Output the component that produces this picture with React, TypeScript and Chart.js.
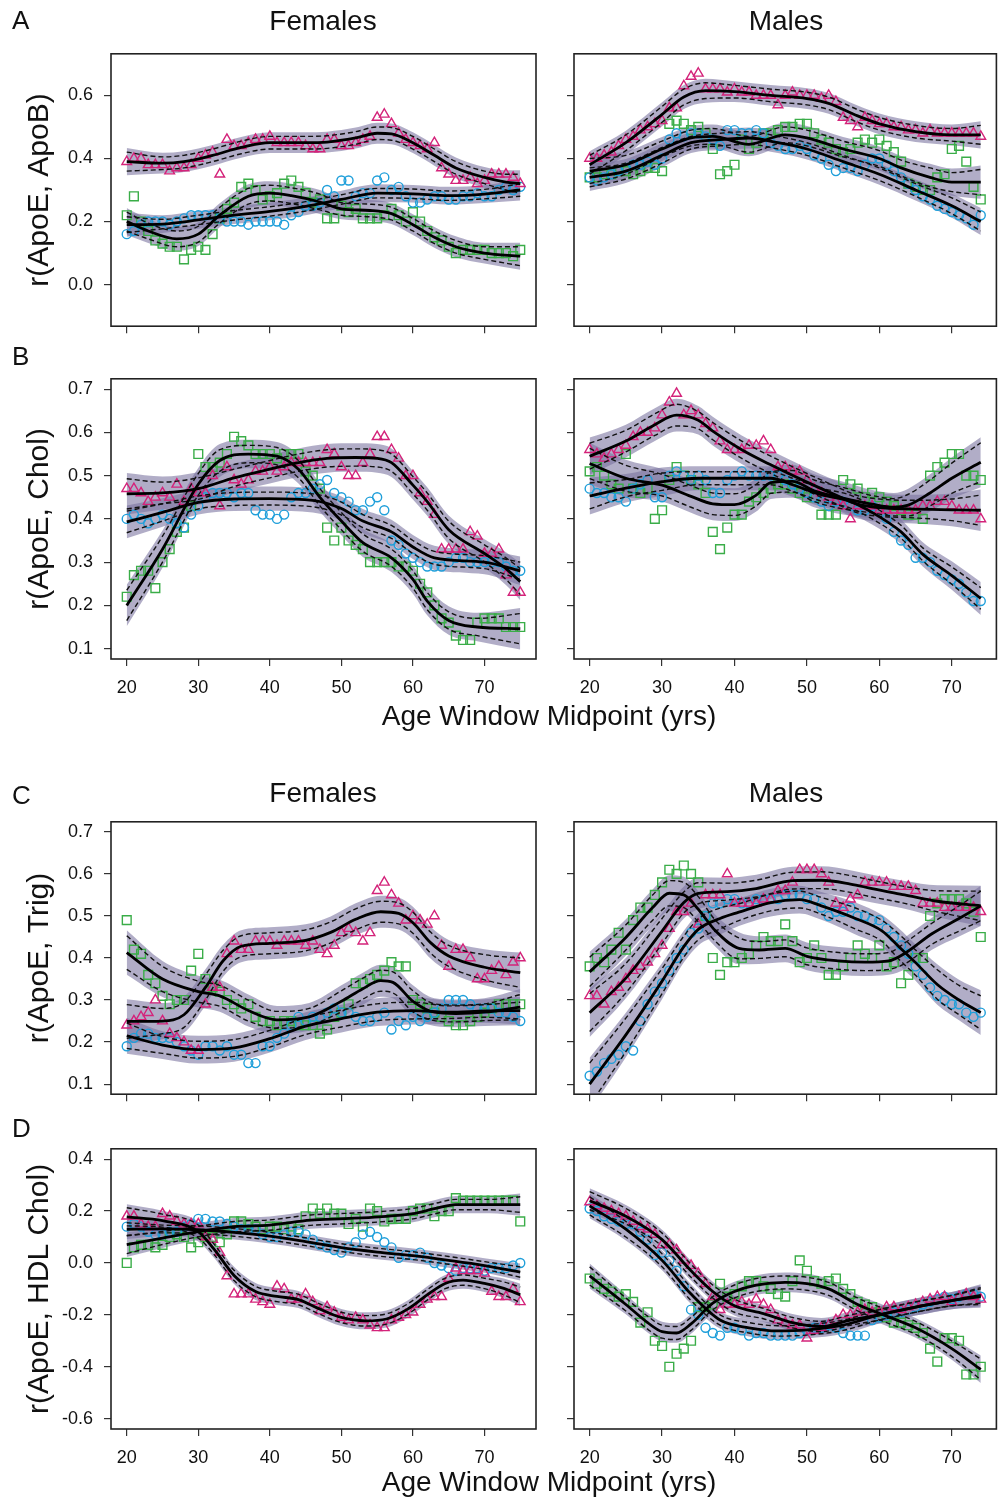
import React, { useEffect, useRef } from "react";
import { Chart, registerables } from "chart.js";
Chart.register(...registerables);

type Knot = [number, number, number]; // [age, fitted r, half-width of dashed band]

// ---------- ages ----------
const agesFemale = [20,21,22,23,24,25,26,27,28,29,30,31,32,33,34,35,36,37,38,39,40,41,42,43,44,45,46,47,48,49,50,51,52,53,54,55,56,57,58,59,60,61,62,63,64,65,66,67,68,69,70,71,72,73,74,75];
const agesMale = [20,21,22,23,24,25,26,27,28,29,30,31,32,33,34,35,36,37,38,39,40,41,42,43,44,45,46,47,48,49,50,51,52,53,54,55,56,57,58,59,60,61,62,63,64,65,66,67,68,69,70,71,72,73,74];
const xTickValues = [20, 30, 40, 50, 60, 70];
const yTicksA = [0, 0.2, 0.4, 0.6];
const yTicksBC = [0.1, 0.2, 0.3, 0.4, 0.5, 0.6, 0.7];
const yTicksD = [-0.6, -0.4, -0.2, 0, 0.2, 0.4];

// ---------- Panel A : r(ApoE, ApoB) ----------
const A_F_tri = [.39,.40,.40,.38,.38,.38,.36,.37,.37,.38,.40,.41,.42,.35,.46,.44,.44,.45,.46,.46,.47,.45,.45,.45,.45,.44,.43,.43,.46,.46,.44,.44,.45,.46,.47,.53,.54,.51,.48,.46,.45,.44,.43,.45,.37,.35,.33,.33,.34,.32,.33,.35,.35,.35,.34,.32];
const A_F_cir = [.16,.17,.19,.20,.20,.20,.19,.20,.21,.22,.22,.22,.22,.21,.20,.20,.20,.19,.20,.20,.20,.20,.19,.22,.23,.25,.25,.26,.30,.28,.33,.33,.28,.29,.29,.33,.34,.30,.31,.28,.26,.26,.27,.28,.28,.27,.27,.28,.28,.29,.28,.28,.30,.31,.30,.31];
const A_F_sq = [.22,.28,.20,.17,.14,.13,.12,.12,.08,.11,.12,.11,.16,.21,.24,.26,.31,.32,.30,.27,.28,.29,.32,.33,.31,.29,.26,.27,.21,.21,.25,.23,.24,.21,.21,.21,.22,.24,.22,.20,.23,.20,.17,.15,.14,.12,.10,.11,.11,.11,.11,.10,.10,.10,.09,.11];
const A_F_fitTri: Knot[] = [[20,.39,.03],[25,.385,.02],[28,.39,.02],[32,.41,.02],[36,.435,.02],[40,.45,.02],[45,.45,.02],[48,.452,.02],[52,.465,.02],[55,.48,.02],[57,.478,.02],[60,.45,.02],[63,.41,.02],[66,.37,.02],[70,.34,.02],[73,.325,.025],[75,.32,.03]];
const A_F_fitCir: Knot[] = [[20,.19,.025],[25,.192,.015],[30,.205,.015],[35,.22,.015],[40,.232,.015],[45,.248,.015],[50,.27,.015],[55,.29,.015],[60,.288,.015],[65,.282,.015],[70,.287,.015],[75,.30,.02]];
const A_F_fitSq: Knot[] = [[20,.20,.03],[23,.17,.025],[27,.145,.025],[30,.16,.025],[33,.22,.025],[37,.28,.025],[40,.29,.025],[43,.282,.025],[47,.262,.025],[50,.24,.02],[54,.235,.02],[57,.225,.02],[60,.19,.02],[63,.15,.02],[66,.12,.02],[70,.10,.02],[75,.09,.03]];

const A_M_tri = [.40,.40,.41,.42,.44,.46,.47,.49,.50,.51,.52,.56,.56,.63,.66,.67,.62,.62,.62,.61,.62,.61,.61,.60,.60,.60,.57,.60,.61,.60,.60,.60,.59,.60,.58,.53,.52,.50,.53,.52,.51,.51,.50,.50,.49,.49,.48,.49,.48,.48,.48,.48,.48,.48,.47];
const A_M_cir = [.34,.33,.34,.35,.36,.37,.38,.38,.39,.38,.40,.46,.48,.47,.48,.48,.47,.46,.44,.49,.49,.48,.48,.49,.48,.45,.44,.43,.43,.44,.43,.41,.40,.38,.36,.37,.37,.36,.38,.40,.40,.38,.36,.34,.32,.30,.28,.27,.25,.24,.23,.22,.21,.19,.22];
const A_M_sq = [.34,.34,.35,.35,.36,.36,.35,.36,.37,.37,.36,.51,.52,.51,.49,.50,.48,.43,.35,.36,.38,.46,.43,.45,.48,.48,.49,.50,.50,.51,.51,.48,.46,.45,.43,.42,.43,.45,.46,.45,.46,.44,.42,.39,.32,.31,.30,.30,.34,.35,.43,.44,.39,.31,.27];
const A_M_fitTri: Knot[] = [[20,.38,.03],[25,.45,.025],[30,.54,.025],[33,.595,.025],[36,.615,.025],[40,.612,.02],[45,.60,.02],[50,.59,.02],[53,.575,.02],[57,.535,.02],[60,.51,.02],[65,.485,.02],[70,.475,.02],[74,.475,.03]];
const A_M_fitCir: Knot[] = [[20,.34,.03],[25,.36,.025],[30,.41,.025],[34,.45,.02],[38,.46,.02],[42,.465,.02],[46,.45,.02],[50,.43,.02],[55,.39,.02],[60,.35,.02],[65,.30,.02],[70,.25,.025],[74,.20,.03]];
const A_M_fitSq: Knot[] = [[20,.36,.04],[25,.38,.03],[30,.43,.025],[34,.465,.025],[37,.47,.025],[42,.445,.025],[47,.475,.025],[50,.465,.025],[55,.43,.025],[60,.40,.025],[63,.37,.025],[67,.34,.03],[70,.325,.03],[74,.325,.04]];

// ---------- Panel B : r(ApoE, Chol) ----------
const B_F_tri = [.47,.47,.46,.44,.45,.46,.45,.48,.44,.47,.46,.46,.50,.43,.52,.49,.48,.49,.51,.51,.52,.51,.52,.53,.53,.53,.53,.53,.56,.55,.52,.50,.50,.53,.55,.59,.59,.56,.54,.50,.50,.46,.44,.41,.33,.33,.33,.33,.37,.36,.32,.32,.33,.27,.23,.23];
const B_F_cir = [.40,.41,.40,.39,.40,.41,.40,.39,.38,.41,.43,.45,.46,.46,.46,.45,.46,.46,.42,.41,.41,.40,.41,.45,.46,.46,.47,.48,.49,.46,.45,.44,.42,.42,.44,.45,.42,.35,.34,.32,.31,.30,.29,.29,.29,.30,.31,.31,.30,.30,.30,.30,.30,.29,.28,.28];
const B_F_sq = [.22,.27,.28,.28,.24,.30,.33,.37,.38,.43,.55,.52,.52,.53,.55,.59,.58,.57,.55,.55,.55,.54,.55,.55,.55,.51,.50,.47,.38,.35,.38,.35,.34,.33,.30,.30,.30,.30,.29,.29,.28,.25,.23,.20,.17,.16,.13,.12,.12,.16,.17,.17,.17,.15,.15,.15];
const B_F_fitTri: Knot[] = [[20,.458,.035],[25,.46,.025],[30,.47,.025],[35,.495,.02],[40,.515,.02],[44,.53,.02],[48,.54,.02],[52,.542,.02],[55,.54,.02],[57,.53,.02],[60,.478,.02],[62,.44,.02],[65,.375,.02],[70,.32,.02],[73,.285,.025],[75,.255,.03]];
const B_F_fitCir: Knot[] = [[20,.393,.025],[25,.415,.02],[30,.438,.015],[35,.446,.015],[40,.447,.015],[46,.443,.015],[50,.424,.015],[53,.395,.015],[57,.37,.015],[60,.335,.015],[63,.31,.015],[70,.30,.015],[75,.28,.02]];
const B_F_fitSq: Knot[] = [[20,.20,.035],[25,.33,.03],[30,.48,.025],[33,.535,.025],[37,.55,.02],[41,.545,.02],[44,.515,.02],[47,.45,.02],[50,.395,.02],[53,.345,.02],[57,.31,.02],[60,.26,.02],[62,.21,.02],[65,.165,.02],[69,.15,.02],[75,.146,.035]];

const B_M_tri = [.56,.55,.54,.55,.56,.57,.59,.60,.60,.61,.64,.67,.69,.64,.65,.64,.62,.61,.58,.56,.56,.56,.57,.57,.58,.56,.52,.52,.51,.51,.49,.47,.46,.45,.44,.43,.40,.43,.43,.43,.42,.42,.42,.42,.42,.42,.43,.43,.44,.44,.43,.42,.42,.42,.40];
const B_M_cir = [.47,.46,.46,.45,.45,.44,.47,.48,.49,.45,.45,.50,.51,.50,.49,.50,.49,.46,.46,.49,.50,.51,.50,.50,.50,.50,.50,.49,.48,.47,.46,.45,.44,.43,.44,.44,.43,.42,.42,.43,.42,.40,.37,.35,.34,.31,.31,.30,.28,.27,.26,.25,.23,.21,.21];
const B_M_sq = [.51,.52,.50,.48,.47,.55,.47,.46,.47,.40,.42,.49,.52,.50,.49,.48,.46,.37,.33,.38,.41,.41,.44,.45,.46,.47,.48,.48,.47,.46,.45,.45,.41,.41,.41,.49,.48,.47,.45,.46,.45,.44,.43,.42,.41,.41,.40,.50,.52,.53,.55,.55,.50,.50,.49];
const B_M_fitTri: Knot[] = [[20,.545,.03],[25,.58,.025],[29,.618,.025],[32,.64,.025],[35,.628,.02],[37,.603,.02],[41,.56,.02],[45,.525,.02],[50,.485,.02],[54,.455,.02],[57,.434,.02],[60,.426,.02],[64,.423,.02],[70,.421,.025],[74,.42,.035]];
const B_M_fitCir: Knot[] = [[20,.453,.03],[25,.471,.02],[30,.486,.02],[35,.494,.015],[45,.494,.015],[48,.479,.015],[52,.456,.015],[56,.44,.015],[59,.415,.015],[63,.37,.015],[66,.318,.015],[70,.269,.02],[74,.216,.025]];
const B_M_fitSq: Knot[] = [[20,.528,.035],[25,.494,.03],[30,.478,.025],[34,.452,.025],[37,.435,.025],[40,.433,.025],[43,.455,.025],[45,.484,.025],[48,.487,.025],[51,.465,.025],[55,.448,.025],[59,.434,.02],[62,.427,.02],[64,.432,.025],[67,.46,.03],[70,.494,.035],[74,.531,.045]];

// ---------- Panel C : r(ApoE, Trig) ----------
const C_F_tri = [.24,.25,.26,.27,.30,.25,.22,.21,.20,.18,.18,.29,.33,.33,.41,.44,.42,.42,.44,.44,.44,.43,.44,.44,.44,.43,.44,.42,.41,.43,.46,.47,.46,.44,.46,.56,.58,.55,.53,.49,.50,.49,.48,.50,.43,.38,.42,.42,.40,.35,.35,.37,.38,.36,.39,.40];
const C_F_cir = [.19,.21,.22,.22,.21,.21,.21,.20,.19,.18,.17,.19,.19,.18,.19,.17,.17,.15,.15,.19,.19,.21,.22,.24,.26,.25,.26,.26,.27,.28,.27,.27,.26,.25,.25,.26,.27,.23,.25,.24,.26,.25,.26,.27,.28,.30,.30,.30,.29,.28,.28,.28,.27,.27,.26,.25];
const C_F_sq = [.49,.42,.41,.36,.34,.31,.29,.30,.30,.37,.41,.35,.33,.32,.30,.29,.28,.29,.26,.25,.25,.24,.25,.25,.24,.24,.24,.22,.23,.26,.27,.29,.34,.34,.35,.36,.37,.39,.38,.38,.30,.29,.28,.27,.26,.25,.24,.24,.25,.26,.27,.28,.29,.29,.29,.29];
const C_F_fitTri: Knot[] = [[20,.249,.04],[25,.25,.03],[28,.265,.03],[31,.33,.03],[33.5,.394,.025],[36,.428,.025],[40,.435,.025],[45,.442,.025],[48.5,.461,.025],[52,.492,.025],[55.5,.51,.025],[58,.506,.025],[60,.484,.025],[62.5,.436,.025],[65,.405,.025],[70,.378,.03],[75,.365,.035]];
const C_F_fitCir: Knot[] = [[20,.215,.03],[25,.193,.02],[30,.182,.02],[35,.186,.02],[40,.208,.02],[45,.238,.02],[50,.256,.02],[55,.271,.02],[60,.275,.02],[65,.271,.015],[70,.274,.015],[75,.275,.02]];
const C_F_fitSq: Knot[] = [[20,.413,.04],[25,.35,.03],[30,.32,.025],[33,.31,.025],[37,.275,.025],[41,.253,.02],[45.5,.26,.02],[50,.297,.025],[53,.327,.025],[55.5,.346,.025],[57.2,.342,.025],[60,.297,.025],[63,.271,.02],[66,.268,.02],[70,.271,.02],[75,.283,.03]];

const C_M_tri = [.31,.31,.29,.32,.33,.35,.37,.38,.39,.41,.43,.47,.51,.51,.53,.48,.55,.55,.55,.60,.53,.53,.53,.53,.54,.54,.56,.56,.58,.61,.61,.61,.60,.58,.53,.52,.54,.55,.58,.58,.58,.58,.57,.57,.57,.56,.53,.53,.53,.52,.52,.52,.52,.52,.51];
const C_M_cir = [.12,.13,.15,.16,.17,.19,.18,.25,.29,.32,.34,.37,.40,.42,.46,.47,.50,.53,.53,.54,.54,.53,.53,.54,.54,.54,.54,.55,.55,.55,.54,.54,.52,.50,.51,.51,.52,.50,.50,.49,.49,.47,.45,.43,.41,.38,.36,.33,.31,.30,.29,.29,.27,.26,.27];
const C_M_sq = [.38,.40,.39,.42,.46,.42,.49,.52,.52,.55,.58,.61,.60,.62,.60,.58,.50,.40,.36,.39,.39,.40,.41,.43,.45,.44,.44,.48,.44,.39,.40,.43,.40,.36,.36,.38,.40,.43,.41,.40,.43,.38,.39,.34,.36,.40,.40,.50,.53,.54,.54,.54,.53,.51,.45];
const C_M_fitTri: Knot[] = [[20,.27,.045],[25,.352,.035],[30,.464,.03],[33,.532,.025],[35,.554,.025],[39,.558,.02],[43,.565,.02],[48,.584,.02],[52,.585,.02],[56,.576,.02],[59,.565,.02],[63.5,.55,.02],[68,.535,.025],[74,.524,.035]];
const C_M_fitCir: Knot[] = [[20,.10,.05],[25,.217,.04],[30,.345,.03],[33,.427,.025],[35,.468,.025],[38,.494,.025],[40.6,.509,.02],[45,.532,.02],[49,.539,.02],[52,.524,.02],[56.7,.494,.025],[60.4,.464,.025],[62.7,.427,.03],[65,.389,.03],[68,.337,.035],[71,.30,.035],[74,.27,.04]];
const C_M_fitSq: Knot[] = [[20,.367,.035],[25,.449,.03],[28.7,.52,.03],[31,.554,.03],[33,.55,.03],[35,.516,.03],[37.4,.464,.025],[40.6,.423,.025],[43.4,.419,.02],[47,.423,.02],[50,.404,.02],[54.4,.393,.02],[58,.39,.02],[61.3,.393,.02],[63.6,.412,.025],[67.2,.457,.025],[71,.494,.03],[74,.524,.035]];

// ---------- Panel D : r(ApoE, HDL Chol) ----------
const D_F_tri = [.18,.18,.15,.14,.14,.19,.18,.16,.15,.15,.15,.10,.09,.04,-.05,-.12,-.12,-.12,-.14,-.15,-.16,-.09,-.10,-.14,-.14,-.12,-.15,-.185,-.17,-.19,-.21,-.22,-.21,-.22,-.24,-.25,-.25,-.22,-.21,-.20,-.19,-.16,-.14,-.13,-.13,-.06,-.02,-.03,-.03,-.03,-.04,-.11,-.13,-.13,-.10,-.15];
const D_F_cir = [.14,.15,.14,.12,.11,.11,.12,.12,.14,.15,.17,.17,.16,.16,.15,.14,.13,.13,.13,.11,.10,.10,.11,.12,.12,.11,.09,.07,.06,.05,.04,.06,.08,.11,.12,.10,.08,.06,.02,.03,.03,.04,.02,.00,-.01,-.02,-.03,-.02,-.02,-.02,-.03,-.02,-.02,-.02,-.01,.00];
const D_F_sq = [.00,.06,.07,.07,.06,.07,.10,.11,.10,.06,.08,.10,.10,.08,.11,.16,.16,.15,.14,.13,.14,.14,.13,.14,.13,.18,.21,.19,.21,.19,.19,.15,.17,.14,.21,.20,.16,.17,.17,.17,.20,.21,.21,.18,.20,.20,.25,.24,.24,.24,.24,.24,.24,.24,.24,.16];
const D_F_fitTri: Knot[] = [[20,.178,.035],[25,.163,.025],[30,.121,.025],[32.2,.053,.02],[35,-.048,.02],[38,-.11,.02],[41,-.129,.02],[44,-.141,.02],[46.6,-.173,.02],[50,-.21,.02],[53.4,-.223,.02],[56.3,-.216,.02],[59.2,-.179,.02],[62,-.123,.02],[64.5,-.079,.02],[67,-.066,.02],[70,-.079,.02],[72.7,-.098,.025],[75,-.123,.03]];
const D_F_fitCir: Knot[] = [[20,.13,.025],[25,.131,.015],[30,.128,.015],[35,.118,.015],[40,.103,.015],[45,.082,.015],[50,.059,.015],[55,.042,.015],[60,.028,.015],[65,.01,.015],[70,-.01,.015],[75,-.035,.02]];
const D_F_fitSq: Knot[] = [[20,.071,.035],[25,.096,.025],[30,.121,.02],[35,.14,.02],[40,.146,.02],[45.7,.165,.02],[50.5,.171,.02],[55.3,.178,.02],[60,.19,.02],[63,.209,.02],[66,.225,.02],[70.7,.225,.02],[75,.225,.03]];

const D_M_tri = [.235,.22,.21,.20,.19,.18,.16,.14,.13,.11,.07,.07,.05,.01,-.01,-.04,-.08,-.13,-.18,-.16,-.16,-.15,-.16,-.14,-.16,-.18,-.22,-.23,-.24,-.24,-.29,-.26,-.25,-.24,-.22,-.20,-.20,-.19,-.18,-.19,-.19,-.17,-.17,-.18,-.17,-.16,-.15,-.14,-.13,-.13,-.15,-.13,-.12,-.13,-.14];
const D_M_cir = [.21,.20,.18,.17,.16,.15,.15,.12,.09,.03,.04,.01,-.03,-.09,-.18,-.20,-.25,-.27,-.28,-.25,-.25,-.26,-.28,-.27,-.27,-.28,-.28,-.28,-.28,-.27,-.26,-.25,-.25,-.24,-.25,-.27,-.28,-.28,-.28,-.22,-.21,-.20,-.19,-.19,-.18,-.17,-.16,-.15,-.14,-.13,-.14,-.13,-.12,-.12,-.13];
const D_M_sq = [-.06,-.08,-.10,-.11,-.13,-.12,-.15,-.23,-.19,-.30,-.32,-.40,-.35,-.33,-.30,-.17,-.17,-.16,-.08,-.13,-.12,-.09,-.07,-.07,-.09,-.10,-.12,-.13,-.07,.01,-.03,-.07,-.08,-.07,-.06,-.10,-.12,-.15,-.16,-.17,-.19,-.21,-.23,-.23,-.24,-.25,-.27,-.33,-.38,-.29,-.29,-.30,-.43,-.43,-.40];
const D_M_fitTri: Knot[] = [[20,.24,.035],[25,.18,.03],[30,.09,.025],[34,-.03,.025],[37,-.11,.025],[40,-.165,.025],[44,-.195,.02],[48,-.23,.02],[52,-.245,.02],[56,-.22,.02],[60,-.20,.02],[65,-.17,.02],[70,-.145,.02],[74,-.13,.03]];
const D_M_fitCir: Knot[] = [[20,.22,.035],[25,.13,.03],[30,.01,.025],[34,-.12,.025],[38,-.22,.02],[42,-.25,.02],[46,-.262,.02],[50,-.258,.02],[55,-.24,.02],[60,-.20,.02],[65,-.17,.02],[70,-.145,.02],[74,-.125,.03]];
const D_M_fitSq: Knot[] = [[20,-.05,.035],[25,-.16,.025],[28,-.23,.025],[30,-.265,.025],[32,-.27,.025],[34,-.235,.025],[37,-.155,.025],[40,-.11,.025],[43,-.085,.025],[47,-.075,.025],[50,-.08,.025],[53,-.10,.025],[57,-.16,.025],[61,-.205,.025],[65,-.25,.025],[70,-.33,.03],[74,-.41,.04]];

// ---------- styles ----------
const FONT = '"Liberation Sans", Arial, Helvetica, sans-serif';
const TRI_COLOR = "#d4237a";
const CIR_COLOR = "#1f9fda";
const SQ_COLOR = "#3aad48";
const BAND_COLOR = "rgba(120,114,158,0.58)";
const BAND_EXTRA = 0.013;

type SeriesDef = { vals: number[]; knots: Knot[]; color: string; style: string; radius: number };
type PanelDef = {
  ages: number[];
  series: SeriesDef[];
  yMin: number; yMax: number; yTicks: number[];
  xMin: number; xMax: number;
  yTitle: string;
  male: boolean;
  row: number;
};

const curve = (k: Knot[], sign: number, extra: number) =>
  k.map(([x, y, c]) => ({ x, y: y + sign * (c + extra) }));

const mkSeries = (vals: number[], knots: Knot[], kind: "tri" | "cir" | "sq"): SeriesDef =>
  kind === "tri"
    ? { vals, knots, color: TRI_COLOR, style: "triangle", radius: 5.6 }
    : kind === "cir"
    ? { vals, knots, color: CIR_COLOR, style: "circle", radius: 4.5 }
    : { vals, knots, color: SQ_COLOR, style: "rect", radius: 6.2 };

const FX: [number, number] = [17.8, 77.2];
const MX: [number, number] = [17.84, 76.16];
const YA: [number, number] = [-0.132, 0.732];
const YBC: [number, number] = [0.076, 0.724];
const YD: [number, number] = [-0.64, 0.44];

const PANELS: PanelDef[] = [
  { row: 0, male: false, ages: agesFemale, xMin: FX[0], xMax: FX[1], yMin: YA[0], yMax: YA[1], yTicks: yTicksA, yTitle: "r(ApoE, ApoB)",
    series: [mkSeries(A_F_tri, A_F_fitTri, "tri"), mkSeries(A_F_cir, A_F_fitCir, "cir"), mkSeries(A_F_sq, A_F_fitSq, "sq")] },
  { row: 0, male: true, ages: agesMale, xMin: MX[0], xMax: MX[1], yMin: YA[0], yMax: YA[1], yTicks: yTicksA, yTitle: "",
    series: [mkSeries(A_M_tri, A_M_fitTri, "tri"), mkSeries(A_M_cir, A_M_fitCir, "cir"), mkSeries(A_M_sq, A_M_fitSq, "sq")] },
  { row: 1, male: false, ages: agesFemale, xMin: FX[0], xMax: FX[1], yMin: YBC[0], yMax: YBC[1], yTicks: yTicksBC, yTitle: "r(ApoE, Chol)",
    series: [mkSeries(B_F_tri, B_F_fitTri, "tri"), mkSeries(B_F_cir, B_F_fitCir, "cir"), mkSeries(B_F_sq, B_F_fitSq, "sq")] },
  { row: 1, male: true, ages: agesMale, xMin: MX[0], xMax: MX[1], yMin: YBC[0], yMax: YBC[1], yTicks: yTicksBC, yTitle: "",
    series: [mkSeries(B_M_tri, B_M_fitTri, "tri"), mkSeries(B_M_cir, B_M_fitCir, "cir"), mkSeries(B_M_sq, B_M_fitSq, "sq")] },
  { row: 2, male: false, ages: agesFemale, xMin: FX[0], xMax: FX[1], yMin: YBC[0], yMax: YBC[1], yTicks: yTicksBC, yTitle: "r(ApoE, Trig)",
    series: [mkSeries(C_F_tri, C_F_fitTri, "tri"), mkSeries(C_F_cir, C_F_fitCir, "cir"), mkSeries(C_F_sq, C_F_fitSq, "sq")] },
  { row: 2, male: true, ages: agesMale, xMin: MX[0], xMax: MX[1], yMin: YBC[0], yMax: YBC[1], yTicks: yTicksBC, yTitle: "",
    series: [mkSeries(C_M_tri, C_M_fitTri, "tri"), mkSeries(C_M_cir, C_M_fitCir, "cir"), mkSeries(C_M_sq, C_M_fitSq, "sq")] },
  { row: 3, male: false, ages: agesFemale, xMin: FX[0], xMax: FX[1], yMin: YD[0], yMax: YD[1], yTicks: yTicksD, yTitle: "r(ApoE, HDL Chol)",
    series: [mkSeries(D_F_tri, D_F_fitTri, "tri"), mkSeries(D_F_cir, D_F_fitCir, "cir"), mkSeries(D_F_sq, D_F_fitSq, "sq")] },
  { row: 3, male: true, ages: agesMale, xMin: MX[0], xMax: MX[1], yMin: YD[0], yMax: YD[1], yTicks: yTicksD, yTitle: "",
    series: [mkSeries(D_M_tri, D_M_fitTri, "tri"), mkSeries(D_M_cir, D_M_fitCir, "cir"), mkSeries(D_M_sq, D_M_fitSq, "sq")] },
];

// ---------- layout ----------
const ROW_TOPS = [44, 369, 812, 1139];
const BOX_H = 290;
const PAD_TOP = 12;

const boxPlugin = {
  id: "boxFrame",
  afterDraw(chart: any) {
    const { ctx, chartArea: a } = chart;
    ctx.save();
    ctx.strokeStyle = "#222";
    ctx.lineWidth = 1.6;
    ctx.strokeRect(a.left, a.top, a.right - a.left, a.bottom - a.top);
    ctx.restore();
  },
};

function buildDatasets(p: PanelDef) {
  const ds: any[] = [];
  p.series.forEach((s) => {
    const common = { pointRadius: 0, cubicInterpolationMode: "monotone", fill: false };
    ds.push({ ...common, data: curve(s.knots, -1, BAND_EXTRA), borderWidth: 0, borderColor: "rgba(0,0,0,0)", order: 10 });
    ds.push({ ...common, data: curve(s.knots, 1, BAND_EXTRA), borderWidth: 0, borderColor: "rgba(0,0,0,0)", backgroundColor: BAND_COLOR, fill: "-1", order: 10 });
  });
  p.series.forEach((s) => {
    ds.push({
      data: s.vals.map((v, i) => ({ x: p.ages[i], y: v })),
      showLine: false,
      pointStyle: s.style,
      pointRadius: s.radius,
      pointBorderWidth: 1.4,
      pointBorderColor: s.color,
      pointBackgroundColor: "rgba(0,0,0,0)",
      borderColor: s.color,
      order: 5,
    });
  });
  p.series.forEach((s) => {
    const common = { pointRadius: 0, cubicInterpolationMode: "monotone", fill: false, borderColor: "#111", borderWidth: 1.4, borderDash: [5, 3], order: 2 };
    ds.push({ ...common, data: curve(s.knots, -1, 0) });
    ds.push({ ...common, data: curve(s.knots, 1, 0) });
  });
  p.series.forEach((s) => {
    ds.push({ pointRadius: 0, cubicInterpolationMode: "monotone", fill: false, borderColor: "#000", borderWidth: 2.8, order: 1, data: s.knots.map(([x, y]) => ({ x, y })) });
  });
  return ds;
}

function Panel({ p }: { p: PanelDef }) {
  const ref = useRef<HTMLCanvasElement>(null);
  const showX = p.row === 1 || p.row === 3;
  const left = p.male ? 548 : 0;
  const width = p.male ? 456 : 545;
  const padRight = p.male ? 5 : 9;
  const yW = p.male ? 574 - 548 : 111;
  const xH = showX ? 48 : 14;
  const top = ROW_TOPS[p.row] - PAD_TOP;
  const height = PAD_TOP + BOX_H + xH;

  useEffect(() => {
    const grid = { display: true, drawOnChartArea: false, drawTicks: true, tickLength: 7, color: "#333", lineWidth: 1.2 };
    const chart = new Chart(ref.current as HTMLCanvasElement, {
      type: "line",
      data: { datasets: buildDatasets(p) },
      options: {
        animation: false,
        responsive: false,
        maintainAspectRatio: false,
        devicePixelRatio: 1,
        layout: { padding: { top: PAD_TOP, right: padRight, left: 0, bottom: 0 } },
        plugins: { legend: { display: false }, tooltip: { enabled: false }, title: { display: false } },
        scales: {
          x: {
            type: "linear",
            min: p.xMin,
            max: p.xMax,
            afterBuildTicks: (s: any) => { s.ticks = xTickValues.map((v) => ({ value: v })); },
            afterFit: (s: any) => { s.height = xH; },
            grid,
            border: { display: false },
            ticks: {
              autoSkip: false, maxRotation: 0, padding: 11, color: "#111",
              font: { family: FONT, size: 18 },
              callback: (v: any) => (showX ? String(v) : ""),
            },
          },
          y: {
            type: "linear",
            min: p.yMin,
            max: p.yMax,
            afterBuildTicks: (s: any) => { s.ticks = p.yTicks.map((v) => ({ value: v })); },
            afterFit: (s: any) => { s.width = yW; },
            grid,
            border: { display: false },
            ticks: {
              autoSkip: false, padding: 11, color: "#111",
              font: { family: FONT, size: 18 },
              callback: (v: any) => (p.male ? "" : Number(v).toFixed(1)),
            },
            title: {
              display: !p.male,
              text: p.yTitle,
              color: "#111",
              font: { family: FONT, size: 30 },
              padding: { top: 22, bottom: 0 },
            },
          },
        },
      } as any,
      plugins: [boxPlugin],
    });
    return () => chart.destroy();
  }, []);

  return (
    <canvas
      ref={ref}
      width={width}
      height={height}
      style={{ position: "absolute", left, top, width, height }}
    />
  );
}

const textStyle = (x: number, y: number, size: number, center = true): React.CSSProperties => ({
  position: "absolute",
  left: x,
  top: y,
  transform: center ? "translate(-50%, -50%)" : "translate(0, -50%)",
  fontFamily: FONT,
  fontSize: size,
  lineHeight: 1.15,
  color: "#111",
  whiteSpace: "nowrap",
});

export default function App() {
  return (
    <div style={{ position: "absolute", left: 0, top: 0, width: 1004, height: 1498, background: "#fff", overflow: "hidden" }}>
      {PANELS.map((p, i) => (
        <Panel key={i} p={p} />
      ))}
      <div style={textStyle(12, 21, 26, false)}>A</div>
      <div style={textStyle(12, 357, 26, false)}>B</div>
      <div style={textStyle(12, 796, 26, false)}>C</div>
      <div style={textStyle(12, 1129, 26, false)}>D</div>
      <div style={textStyle(323, 21, 28)}>Females</div>
      <div style={textStyle(786, 21, 28)}>Males</div>
      <div style={textStyle(323, 793, 28)}>Females</div>
      <div style={textStyle(786, 793, 28)}>Males</div>
      <div style={textStyle(549, 716, 28)}>Age Window Midpoint (yrs)</div>
      <div style={textStyle(549, 1482, 28)}>Age Window Midpoint (yrs)</div>
    </div>
  );
}
